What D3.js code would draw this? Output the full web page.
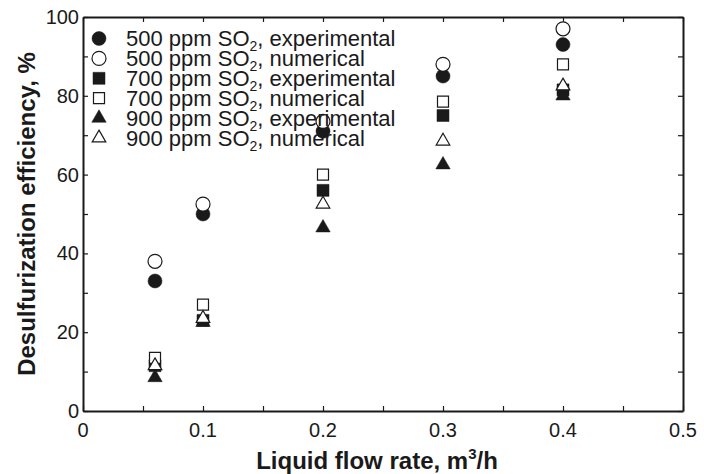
<!DOCTYPE html>
<html><head><meta charset="utf-8">
<script src="https://cdn.jsdelivr.net/npm/d3@7"></script>
<style>body{margin:0;background:#fff}svg{display:block}text{font-family:"Liberation Sans",Arial,sans-serif;fill:#1a1a1a}</style>
</head><body><svg id="c" width="704" height="474"></svg>
<script>
const flow = [0.06, 0.1, 0.2, 0.3, 0.4];
const exp500 = [33, 50, 71, 85, 93];
const num500 = [38, 52.5, 73.5, 88, 97];
const exp700 = [11.5, 23, 56, 75, 81.5];
const num700 = [13.5, 27, 60, 78.5, 88];
const exp900 = [8.5, 22.5, 46.5, 62.5, 80];
const num900 = [11.5, 23.5, 52.5, 68.5, 82.5];
const seriesNames = ["500 ppm SO|2|, experimental","500 ppm SO|2|, numerical","700 ppm SO|2|, experimental","700 ppm SO|2|, numerical","900 ppm SO|2|, experimental","900 ppm SO|2|, numerical"];
const xTicks = [0, 0.1, 0.2, 0.3, 0.4, 0.5];
const yTicks = [0, 20, 40, 60, 80, 100];

const series = [
  {name: seriesNames[0], values: exp500, shape: "circle", filled: true},
  {name: seriesNames[1], values: num500, shape: "circle", filled: false},
  {name: seriesNames[2], values: exp700, shape: "square", filled: true},
  {name: seriesNames[3], values: num700, shape: "square", filled: false},
  {name: seriesNames[4], values: exp900, shape: "triangle", filled: true},
  {name: seriesNames[5], values: num900, shape: "triangle", filled: false}
];

const svg = d3.select("#c");
const L = 83, R = 683, T = 17, B = 411;
const x = d3.scaleLinear().domain([0, 0.5]).range([L, R]);
const y = d3.scaleLinear().domain([0, 100]).range([B, T]);
const ink = "#1a1a1a";

function symFor(s) {
  if (s.shape === "circle") return d3.symbol().type(d3.symbolCircle).size(Math.PI * 7 * 7)();
  if (s.shape === "square") return d3.symbol().type(d3.symbolSquare).size(s.filled ? 144 : 121)();
  return d3.symbol().type(d3.symbolTriangle).size(s.filled ? 90 : 80)();
}

// axes
const minorX = d3.range(0, 0.5001, 0.05);
const minorY = d3.range(0, 100.01, 10);
const g = svg.append("g");
const axB = d3.axisBottom(x).tickValues(minorX).tickSizeInner(-5).tickSizeOuter(0).tickFormat("");
const axT = d3.axisTop(x).tickValues(minorX).tickSizeInner(-5).tickSizeOuter(0).tickFormat("");
const axL = d3.axisLeft(y).tickValues(minorY).tickSizeInner(-5).tickSizeOuter(0).tickFormat("");
const axR = d3.axisRight(y).tickValues(minorY).tickSizeInner(-5).tickSizeOuter(0).tickFormat("");
g.append("g").attr("transform", `translate(0,${B})`).call(axB);
g.append("g").attr("transform", `translate(0,${T})`).call(axT);
g.append("g").attr("transform", `translate(${L},0)`).call(axL);
g.append("g").attr("transform", `translate(${R},0)`).call(axR);
g.selectAll(".domain").attr("stroke", ink).attr("stroke-width", 2);
g.selectAll(".tick line").attr("stroke", ink).attr("stroke-width", 1.2);

// tick labels
svg.append("g").selectAll("text").data(xTicks).join("text")
  .attr("x", d => x(d)).attr("y", B + 26).attr("text-anchor", "middle")
  .attr("font-size", 20).text(d => d === 0 ? "0" : d3.format(".1f")(d));
svg.append("g").selectAll("text").data(yTicks).join("text")
  .attr("x", L - 4).attr("y", d => y(d) + 7).attr("text-anchor", "end")
  .attr("font-size", 20).text(d => d);

// axis titles
const xt = svg.append("text").attr("x", 377).attr("y", 469).attr("text-anchor", "middle")
  .attr("font-size", 24).attr("font-weight", "bold");
xt.append("tspan").text("Liquid flow rate, m");
xt.append("tspan").attr("font-size", 15).attr("dy", -10).text("3");
xt.append("tspan").attr("dy", 10).text("/h");
svg.append("text").attr("transform", "translate(35,214) rotate(-90)").attr("text-anchor", "middle")
  .attr("font-size", 24).attr("font-weight", "bold").text("Desulfurization efficiency, %");

// data points
series.forEach(s => {
  svg.append("g").selectAll("path").data(s.values.map((v, i) => [flow[i], v])).join("path")
    .attr("d", symFor(s))
    .attr("transform", d => `translate(${x(d[0])},${y(d[1])})`)
    .attr("fill", s.filled ? ink : "#fff")
    .attr("stroke", ink).attr("stroke-width", s.filled ? 0.5 : 1.2);
});

// legend
const lg = svg.append("g");
series.forEach((s, i) => {
  const cy = 38.5 + i * 19.9;
  lg.append("path").attr("d", symFor(s)).attr("transform", `translate(99,${cy})`)
    .attr("fill", s.filled ? ink : "#fff").attr("stroke", ink).attr("stroke-width", s.filled ? 0.5 : 1.2);
  const parts = s.name.split("|");
  const t = lg.append("text").attr("x", 126).attr("y", cy + 7.5).attr("font-size", 22);
  t.append("tspan").text(parts[0]);
  t.append("tspan").attr("font-size", 14).attr("dy", 5).text(parts[1]);
  t.append("tspan").attr("dy", -5).text(parts[2]);
});
</script></body></html>
